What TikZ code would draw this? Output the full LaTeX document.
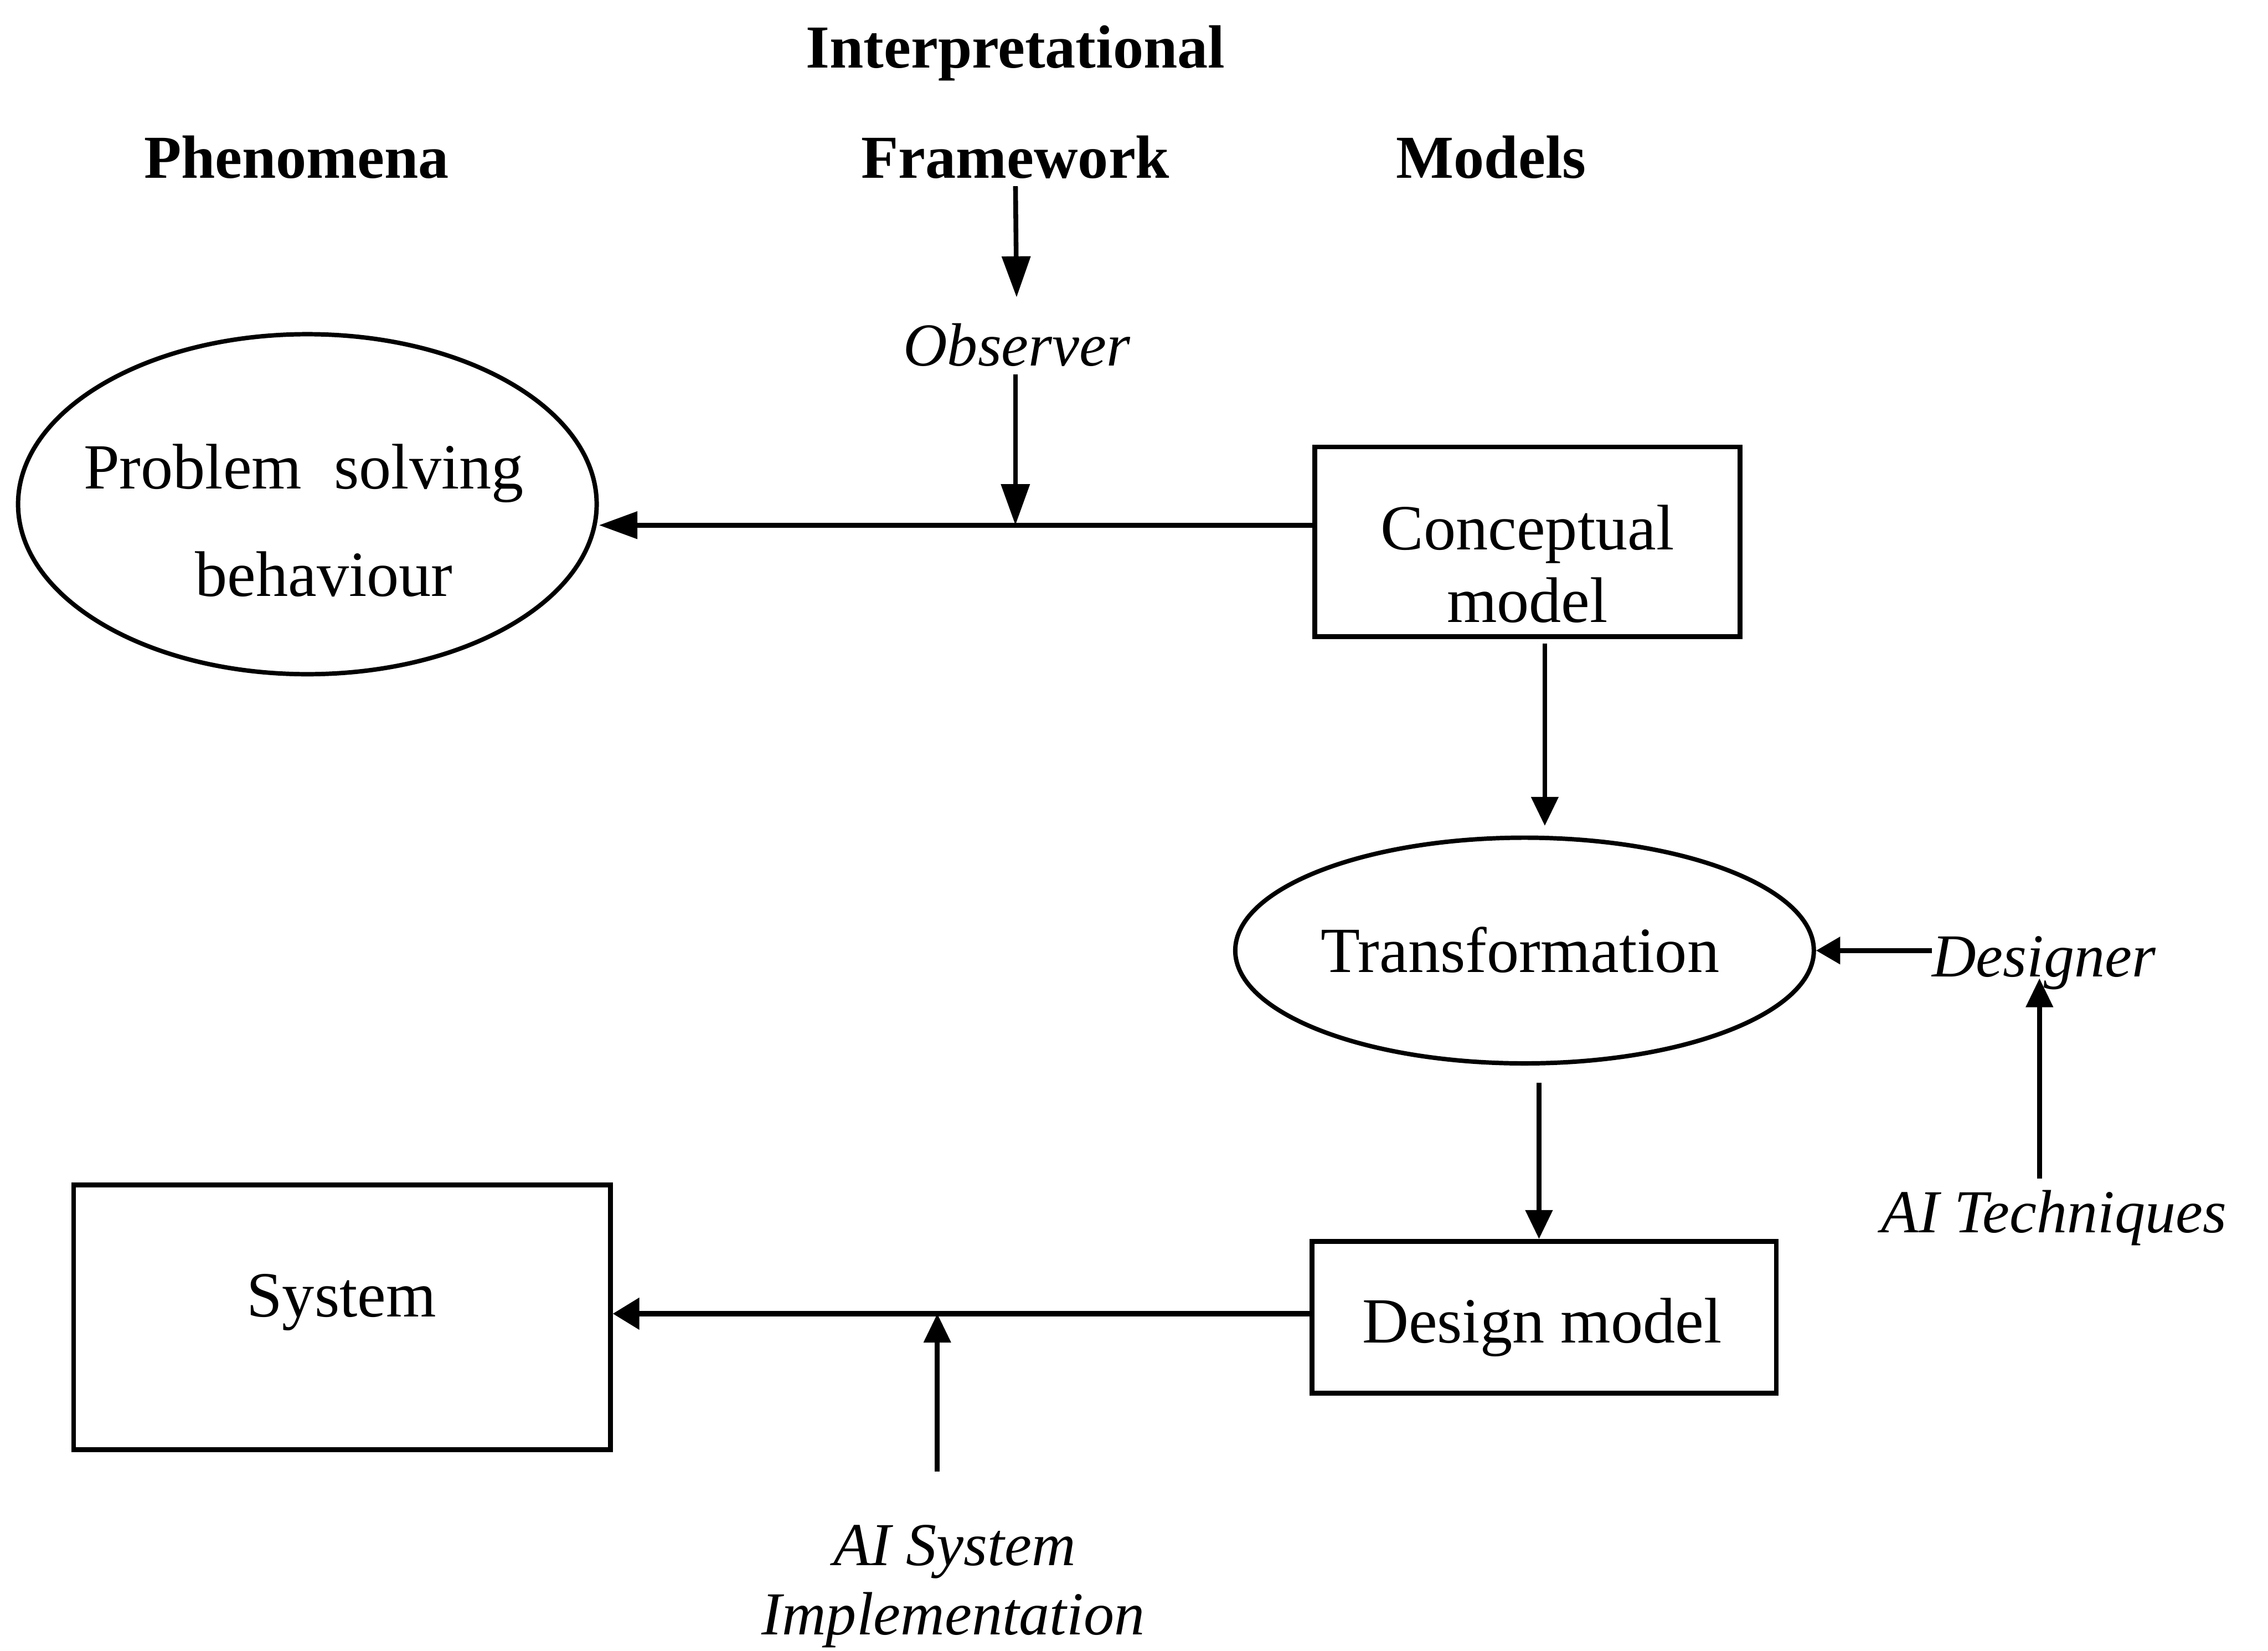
\documentclass[tikz,border=0pt]{standalone}
\usepackage{fontspec}
\setmainfont{Liberation Serif}
\usetikzlibrary{arrows.meta,shapes.geometric}

\begin{document}
\begin{tikzpicture}[x=0.03cm,y=-0.03cm,
  txt/.style={anchor=base,inner sep=0pt,font=\fontsize{38}{44}\selectfont},
  head/.style={anchor=base,inner sep=0pt,font=\fontsize{36}{42}\selectfont\bfseries},
  actor/.style={anchor=base,inner sep=0pt,font=\fontsize{36}{42}\selectfont\itshape},
  frame/.style={draw,line width=2.8pt,inner sep=0pt},
  oval/.style={draw,ellipse,line width=2.6pt,inner sep=0pt},
  vconn/.style={line width=2.8pt,-{Triangle[length=0.6cm,width=0.55cm]}},
  obsconn/.style={line width=2.8pt,-{Triangle[length=0.85cm,width=0.58cm]}},
  hconn/.style={line width=3pt,-{Triangle[length=0.8cm,width=0.55cm]}},
  lowconn/.style={line width=3pt,-{Triangle[length=0.55cm,width=0.64cm]}},
  sideconn/.style={line width=2.8pt,-{Triangle[length=0.5cm,width=0.55cm]}}]

\useasboundingbox (0,0) rectangle (1568,1141);

% column headings
\node[head] (interp) at (702,47)  {Interpretational};
\node[head] (phen)   at (205,123) {Phenomena};
\node[head] (fw)     at (702,123) {Framework};
\node[head] (mod)    at (1031,123) {Models};

% observer
\node[actor] (obs) at (703,253) {Observer};

% problem solving behaviour
\node[oval,minimum width=12cm,minimum height=7.05cm] (pb) at (212.5,348.5) {};
\node[txt] (pb1) at (210,338) {Problem\hspace{0.5em}solving};
\node[txt] (pb2) at (224,412) {behaviour};

% conceptual model
\node[frame,minimum width=8.82cm,minimum height=3.93cm] (cm) at (1056,374.5) {};
\node[txt] (cm1) at (1056,380) {Conceptual};
\node[txt] (cm2) at (1056,430) {model};

% transformation
\node[oval,minimum width=12cm,minimum height=4.68cm] (tr) at (1054,657) {};
\node[txt] (tr1) at (1051,672) {Transformation};

% designer and AI techniques
\node[actor] (des)  at (1413,675) {Designer};
\node[actor] (tech) at (1420,852) {AI Techniques};

% design model
\node[frame,minimum width=9.63cm,minimum height=3.15cm] (dm) at (1067.5,910.5) {};
\node[txt] (dm1) at (1066,928) {Design model};

% system
\node[frame,minimum width=11.13cm,minimum height=5.49cm] (sys) at (236.5,910.5) {};
\node[txt] (sys1) at (236,910) {System};

% AI system implementation
\node[actor] (ais)  at (660,1082) {AI System};
\node[actor] (impl) at (659,1130) {Implementation};

% junction points and column positions
\coordinate (j1) at (702,363);
\coordinate (j2) at (648,908);
\coordinate (c1) at (1068,0);
\coordinate (c2) at (1064,0);
\coordinate (c3) at (1410,0);

% connectors
\draw[obsconn,shorten <=0.15cm,shorten >=0.54cm] (fw.south) -- (obs.north);
\draw[obsconn,shorten <=0.15cm] (obs.south -| j1) -- (j1);
\draw[hconn] (cm.west |- j1) -- (pb.east |- j1);
\draw[vconn,shorten <=0.09cm,shorten >=0.2cm] (cm.south -| c1) -- (tr.north -| c1);
\draw[vconn,shorten <=0.36cm] (tr.south -| c2) -- (dm.north -| c2);
\draw[sideconn] (des.west |- tr.east) -- (tr.east);
\draw[vconn,shorten <=0.24cm,shorten >=-0.24cm] (tech.north -| c3) -- (des.south -| c3);
\draw[lowconn] (dm.west |- j2) -- (sys.east |- j2);
\draw[vconn,shorten <=1.1cm] (ais.north -| j2) -- (j2);

\end{tikzpicture}
\end{document}
